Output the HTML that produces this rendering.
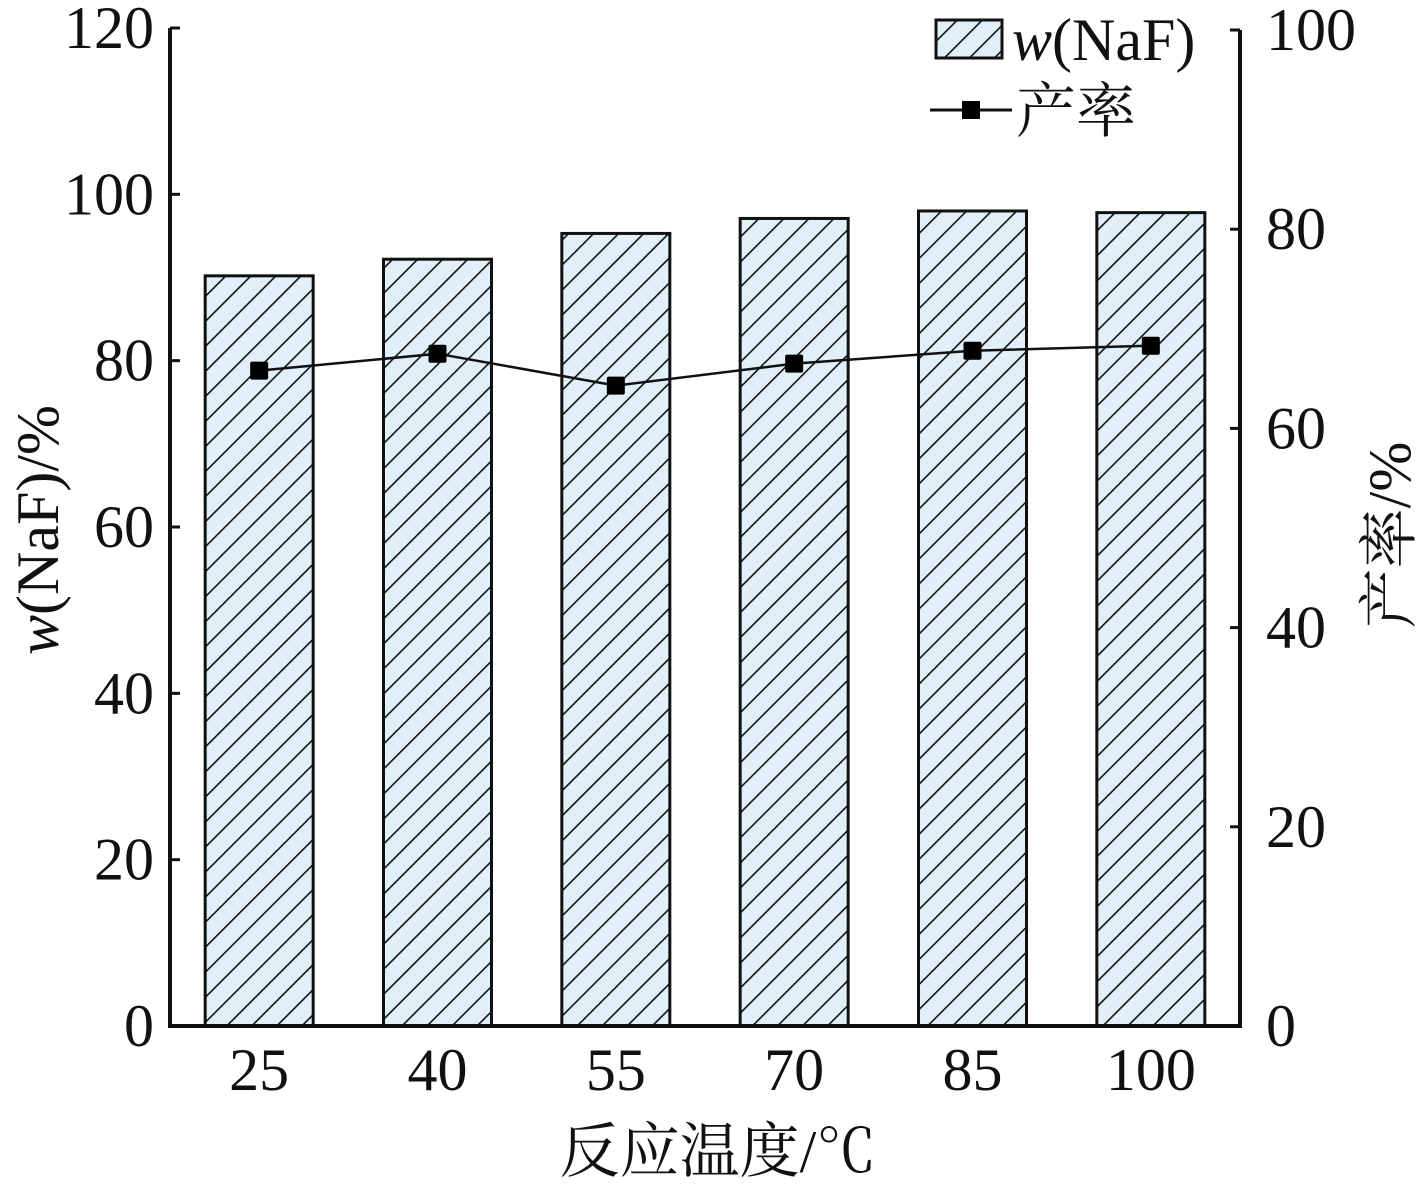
<!DOCTYPE html>
<html><head><meta charset="utf-8"><style>
body{margin:0;background:#fff}
svg text{font-family:"Liberation Serif","Noto Serif CJK SC",serif;fill:#111}
</style></head><body>
<svg id="chart" width="1417" height="1181" viewBox="0 0 1417 1181" xmlns="http://www.w3.org/2000/svg">
<defs>
<pattern id="hatch" patternUnits="userSpaceOnUse" width="17.7" height="17.7" patternTransform="rotate(45)">
<rect width="17.7" height="17.7" fill="#e1f0f8"/>
<line x1="0" y1="0" x2="0" y2="17.7" stroke="#111" stroke-width="3.2"/>
</pattern>
</defs>
<g id="bars"></g>
<g id="line"></g>
<g id="axes"></g>
</svg>
<script>
const categories=["25","40","55","70","85","100"];
const purity=[90.2,92.2,95.3,97.1,98.0,97.8];
const yieldVals=[65.8,67.5,64.3,66.5,67.8,68.3];
const leftTicks=[0,20,40,60,80,100,120];
const rightTicks=[0,20,40,60,80,100];
const NS="http://www.w3.org/2000/svg";
const X0=170,X1=1240,Y0=1026,YT=28;
const band=(X1-X0)/categories.length;
const xC=i=>X0+band*(i+0.5);
const yL=v=>Y0-(Y0-YT)*v/120;
const yR=v=>Y0-(Y0-30)*v/100;
function mk(t,a,p){const e=document.createElementNS(NS,t);for(const k in a)e.setAttribute(k,a[k]);p.appendChild(e);return e;}
const bars=document.getElementById('bars'),line=document.getElementById('line'),axes=document.getElementById('axes');
const bw=108;
purity.forEach((v,i)=>{
 const r=mk('rect',{x:xC(i)-bw/2,y:yL(v),width:bw,height:Y0-yL(v),fill:'url(#hatch)',stroke:'#111','stroke-width':3},bars);
 
 
});
let d='';
yieldVals.forEach((v,i)=>{d+=(i?'L':'M')+xC(i)+' '+yR(v)+' ';});
const pl=mk('path',{d:d,fill:'none',stroke:'#111','stroke-width':2.5},line);


yieldVals.forEach((v,i)=>{
 const m=mk('rect',{x:xC(i)-9,y:yR(v)-9,width:18,height:18,fill:'#000',rx:2},line);
 
 
});
const la=mk('line',{x1:X0,y1:YT,x2:X0,y2:Y0+2,stroke:'#111','stroke-width':4},axes);

const ra=mk('line',{x1:X1,y1:30,x2:X1,y2:Y0+2,stroke:'#111','stroke-width':4},axes);

const xa=mk('line',{x1:X0-2,y1:Y0,x2:X1+2,y2:Y0,stroke:'#111','stroke-width':4},axes);

leftTicks.forEach(v=>{
 mk('line',{x1:X0,y1:yL(v),x2:X0+10,y2:yL(v),stroke:'#111','stroke-width':3},axes);
 const t=mk('text',{x:X0-16,y:yL(v)+20,'text-anchor':'end','font-size':60},axes);t.textContent=v;
 
});
rightTicks.forEach(v=>{
 mk('line',{x1:X1,y1:yR(v),x2:X1-10,y2:yR(v),stroke:'#111','stroke-width':3},axes);
 const t=mk('text',{x:X1+26,y:yR(v)+20,'font-size':60},axes);t.textContent=v;
 
});
categories.forEach((c,i)=>{
 const t=mk('text',{x:xC(i),y:1090,'text-anchor':'middle','font-size':60},axes);t.textContent=c;
 
});
</script>
<svg style="position:absolute;left:0;top:0" width="1417" height="1181">
<text x="718" y="1172" text-anchor="middle" font-size="60">反应温度/℃</text>
<text transform="translate(58,530) rotate(-90)" text-anchor="middle" font-size="60"><tspan font-style="italic">w</tspan>(NaF)/%</text>
<text transform="translate(1410,535) rotate(-90)" text-anchor="middle" font-size="60">产率/%</text>
<g>
<rect x="936" y="20" width="66" height="38" fill="url(#hatch)" stroke="#111" stroke-width="3"/>
<text x="1012" y="60" font-size="60"><tspan font-style="italic">w</tspan>(NaF)</text>
<line x1="930" y1="110" x2="1012" y2="110" stroke="#111" stroke-width="3"/>
<rect x="962" y="101" width="18" height="18" fill="#000"/>
<text x="1016" y="132" font-size="60">产率</text>
</g>
</svg>
</body></html>
